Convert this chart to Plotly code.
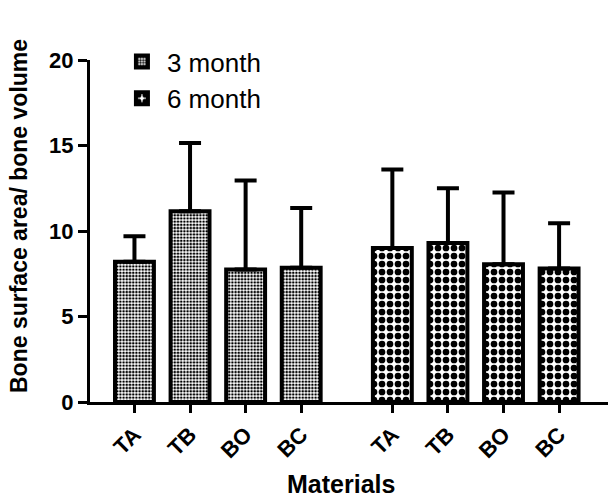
import plotly.graph_objects as go

materials = ["TA", "TB", "BO", "BC"]
x_3m = [0, 1, 2, 3]
x_6m = [4.64, 5.64, 6.64, 7.64]
mean_3m = [8.2, 11.15, 7.75, 7.85]
err_3m = [1.5, 4.0, 5.2, 3.5]
mean_6m = [9.0, 9.3, 8.05, 7.8]
err_6m = [4.6, 3.2, 4.2, 2.65]
y_ticks = [0, 5, 10, 15, 20]

font_family = "Liberation Sans, Arial, sans-serif"

fig = go.Figure()
fig.add_trace(go.Bar(
    x=x_3m, y=mean_3m, name="3 month", width=0.7,
    marker=dict(color="white", line=dict(color="black", width=4),
                pattern=dict(shape=".", size=3.2, solidity=0.5, fgcolor="black", bgcolor="white",
                             fgopacity=1, fillmode="replace")),
    error_y=dict(type="data", array=err_3m, arrayminus=[0]*4, symmetric=False, color="black", thickness=4, width=11),
))
fig.add_trace(go.Bar(
    x=x_6m, y=mean_6m, name="6 month", width=0.7,
    marker=dict(color="white", line=dict(color="black", width=4),
                pattern=dict(shape=".", size=8, solidity=0.55, fgcolor="black", bgcolor="white",
                             fgopacity=1, fillmode="replace")),
    error_y=dict(type="data", array=err_6m, arrayminus=[0]*4, symmetric=False, color="black", thickness=4, width=11),
))

fig.update_layout(
    width=608, height=500,
    margin=dict(l=90, r=0, t=60, b=98),
    plot_bgcolor="white", paper_bgcolor="white",
    barmode="overlay",
    font=dict(family=font_family, color="black"),
    legend=dict(x=0.052, y=1.064, xanchor="left", yanchor="top", font=dict(size=26),
                bgcolor="rgba(0,0,0,0)", itemwidth=40),
    xaxis=dict(
        range=[-0.8, 8.52], tickvals=x_3m + x_6m, ticktext=materials + materials,
        tickangle=-45, ticks="outside", ticklen=8, tickwidth=3, tickcolor="black",
        showline=True, linecolor="black", linewidth=3, showgrid=False, zeroline=False,
        tickfont=dict(size=22, weight="bold"), automargin=False,
    ),
    yaxis=dict(
        range=[0, 20], tickvals=y_ticks, ticks="outside", ticklen=9, tickwidth=3, tickcolor="black",
        showline=True, linecolor="black", linewidth=3, showgrid=False, zeroline=False,
        tickfont=dict(size=22, weight="bold"), automargin=False,
    ),
    annotations=[
        dict(text="<b>Bone surface area/ bone volume</b>", textangle=-90, font=dict(size=23),
             xref="paper", yref="paper", x=-0.137, y=0.544, xanchor="center", yanchor="middle",
             showarrow=False),
        dict(text="<b>Materials</b>", font=dict(size=25),
             xref="paper", yref="paper", x=0.485, y=-0.24, xanchor="center", yanchor="middle",
             showarrow=False),
    ],
)

fig.write_html("out.html")
